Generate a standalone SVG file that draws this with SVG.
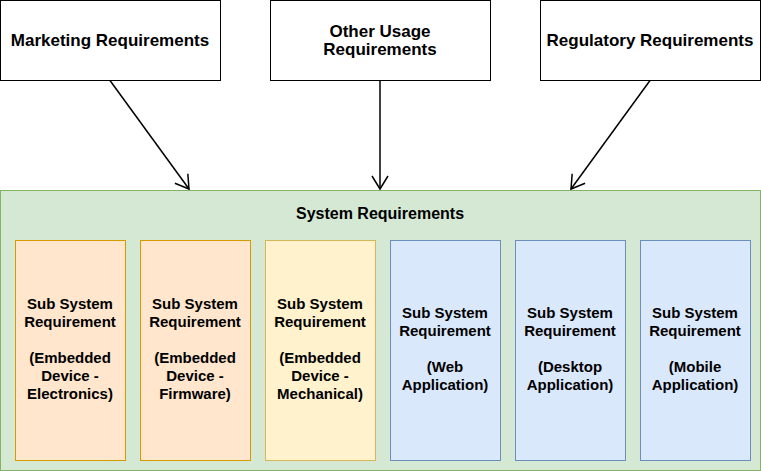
<svg xmlns="http://www.w3.org/2000/svg" width="761" height="471" viewBox="0 0 761 471">
  <style>
    .t { font-family: "Liberation Sans", Arial, sans-serif; font-weight: bold; font-size: 15px; fill: #000; text-anchor: middle; }
    .big { font-size: 17px; }
    .mid { font-size: 16px; }
    .top { fill: #fff; stroke: #000; stroke-width: 1; }
    .org { fill: #ffe6cc; stroke: #d79b00; stroke-width: 1; }
    .yel { fill: #fff2cc; stroke: #d6b656; stroke-width: 1; }
    .blu { fill: #dae8fc; stroke: #6c8ebf; stroke-width: 1; }
    .edge { fill: none; stroke: #000; stroke-width: 1.5; }
  </style>
  <defs>
    <marker id="open" markerWidth="18" markerHeight="20" refX="14" refY="9" orient="auto" markerUnits="userSpaceOnUse">
      <path d="M1,1 L14,9 L1,17" fill="none" stroke="#000" stroke-width="1.5"/>
    </marker>
  </defs>

  <g id="system">
    <rect x="0.5" y="190.5" width="760" height="280" fill="#d5e8d4" stroke="#82b366"/>
    <text class="t mid" x="380" y="219">System Requirements</text>
  </g>

  <g id="marketing">
    <rect class="top" x="0.5" y="0.5" width="220" height="80"/>
    <text class="t big" x="110" y="46">Marketing Requirements</text>
  </g>
  <g id="other">
    <rect class="top" x="270.5" y="0.5" width="220" height="80"/>
    <text class="t big" x="380" y="37">Other Usage</text>
    <text class="t big" x="380" y="55">Requirements</text>
  </g>
  <g id="regulatory">
    <rect class="top" x="540.5" y="0.5" width="220" height="80"/>
    <text class="t big" x="650" y="46">Regulatory Requirements</text>
  </g>

  <g id="electronics">
    <rect class="org" x="15.5" y="240.5" width="110" height="220"/>
    <text class="t" x="70" y="309">Sub System</text>
    <text class="t" x="70" y="327">Requirement</text>
    <text class="t" x="70" y="363">(Embedded</text>
    <text class="t" x="70" y="381">Device -</text>
    <text class="t" x="70" y="399">Electronics)</text>
  </g>
  <g id="firmware">
    <rect class="org" x="140.5" y="240.5" width="110" height="220"/>
    <text class="t" x="195" y="309">Sub System</text>
    <text class="t" x="195" y="327">Requirement</text>
    <text class="t" x="195" y="363">(Embedded</text>
    <text class="t" x="195" y="381">Device -</text>
    <text class="t" x="195" y="399">Firmware)</text>
  </g>
  <g id="mechanical">
    <rect class="yel" x="265.5" y="240.5" width="110" height="220"/>
    <text class="t" x="320" y="309">Sub System</text>
    <text class="t" x="320" y="327">Requirement</text>
    <text class="t" x="320" y="363">(Embedded</text>
    <text class="t" x="320" y="381">Device -</text>
    <text class="t" x="320" y="399">Mechanical)</text>
  </g>
  <g id="web">
    <rect class="blu" x="390.5" y="240.5" width="110" height="220"/>
    <text class="t" x="445" y="318">Sub System</text>
    <text class="t" x="445" y="336">Requirement</text>
    <text class="t" x="445" y="372">(Web</text>
    <text class="t" x="445" y="390">Application)</text>
  </g>
  <g id="desktop">
    <rect class="blu" x="515.5" y="240.5" width="110" height="220"/>
    <text class="t" x="570" y="318">Sub System</text>
    <text class="t" x="570" y="336">Requirement</text>
    <text class="t" x="570" y="372">(Desktop</text>
    <text class="t" x="570" y="390">Application)</text>
  </g>
  <g id="mobile">
    <rect class="blu" x="640.5" y="240.5" width="110" height="220"/>
    <text class="t" x="695" y="318">Sub System</text>
    <text class="t" x="695" y="336">Requirement</text>
    <text class="t" x="695" y="372">(Mobile</text>
    <text class="t" x="695" y="390">Application)</text>
  </g>

  <g id="connectors">
    <path class="edge" d="M110,80.5 L189,189" marker-end="url(#open)"/>
    <path class="edge" d="M380,80.5 L380,189" marker-end="url(#open)"/>
    <path class="edge" d="M650,80.5 L571,189" marker-end="url(#open)"/>
  </g>
</svg>
